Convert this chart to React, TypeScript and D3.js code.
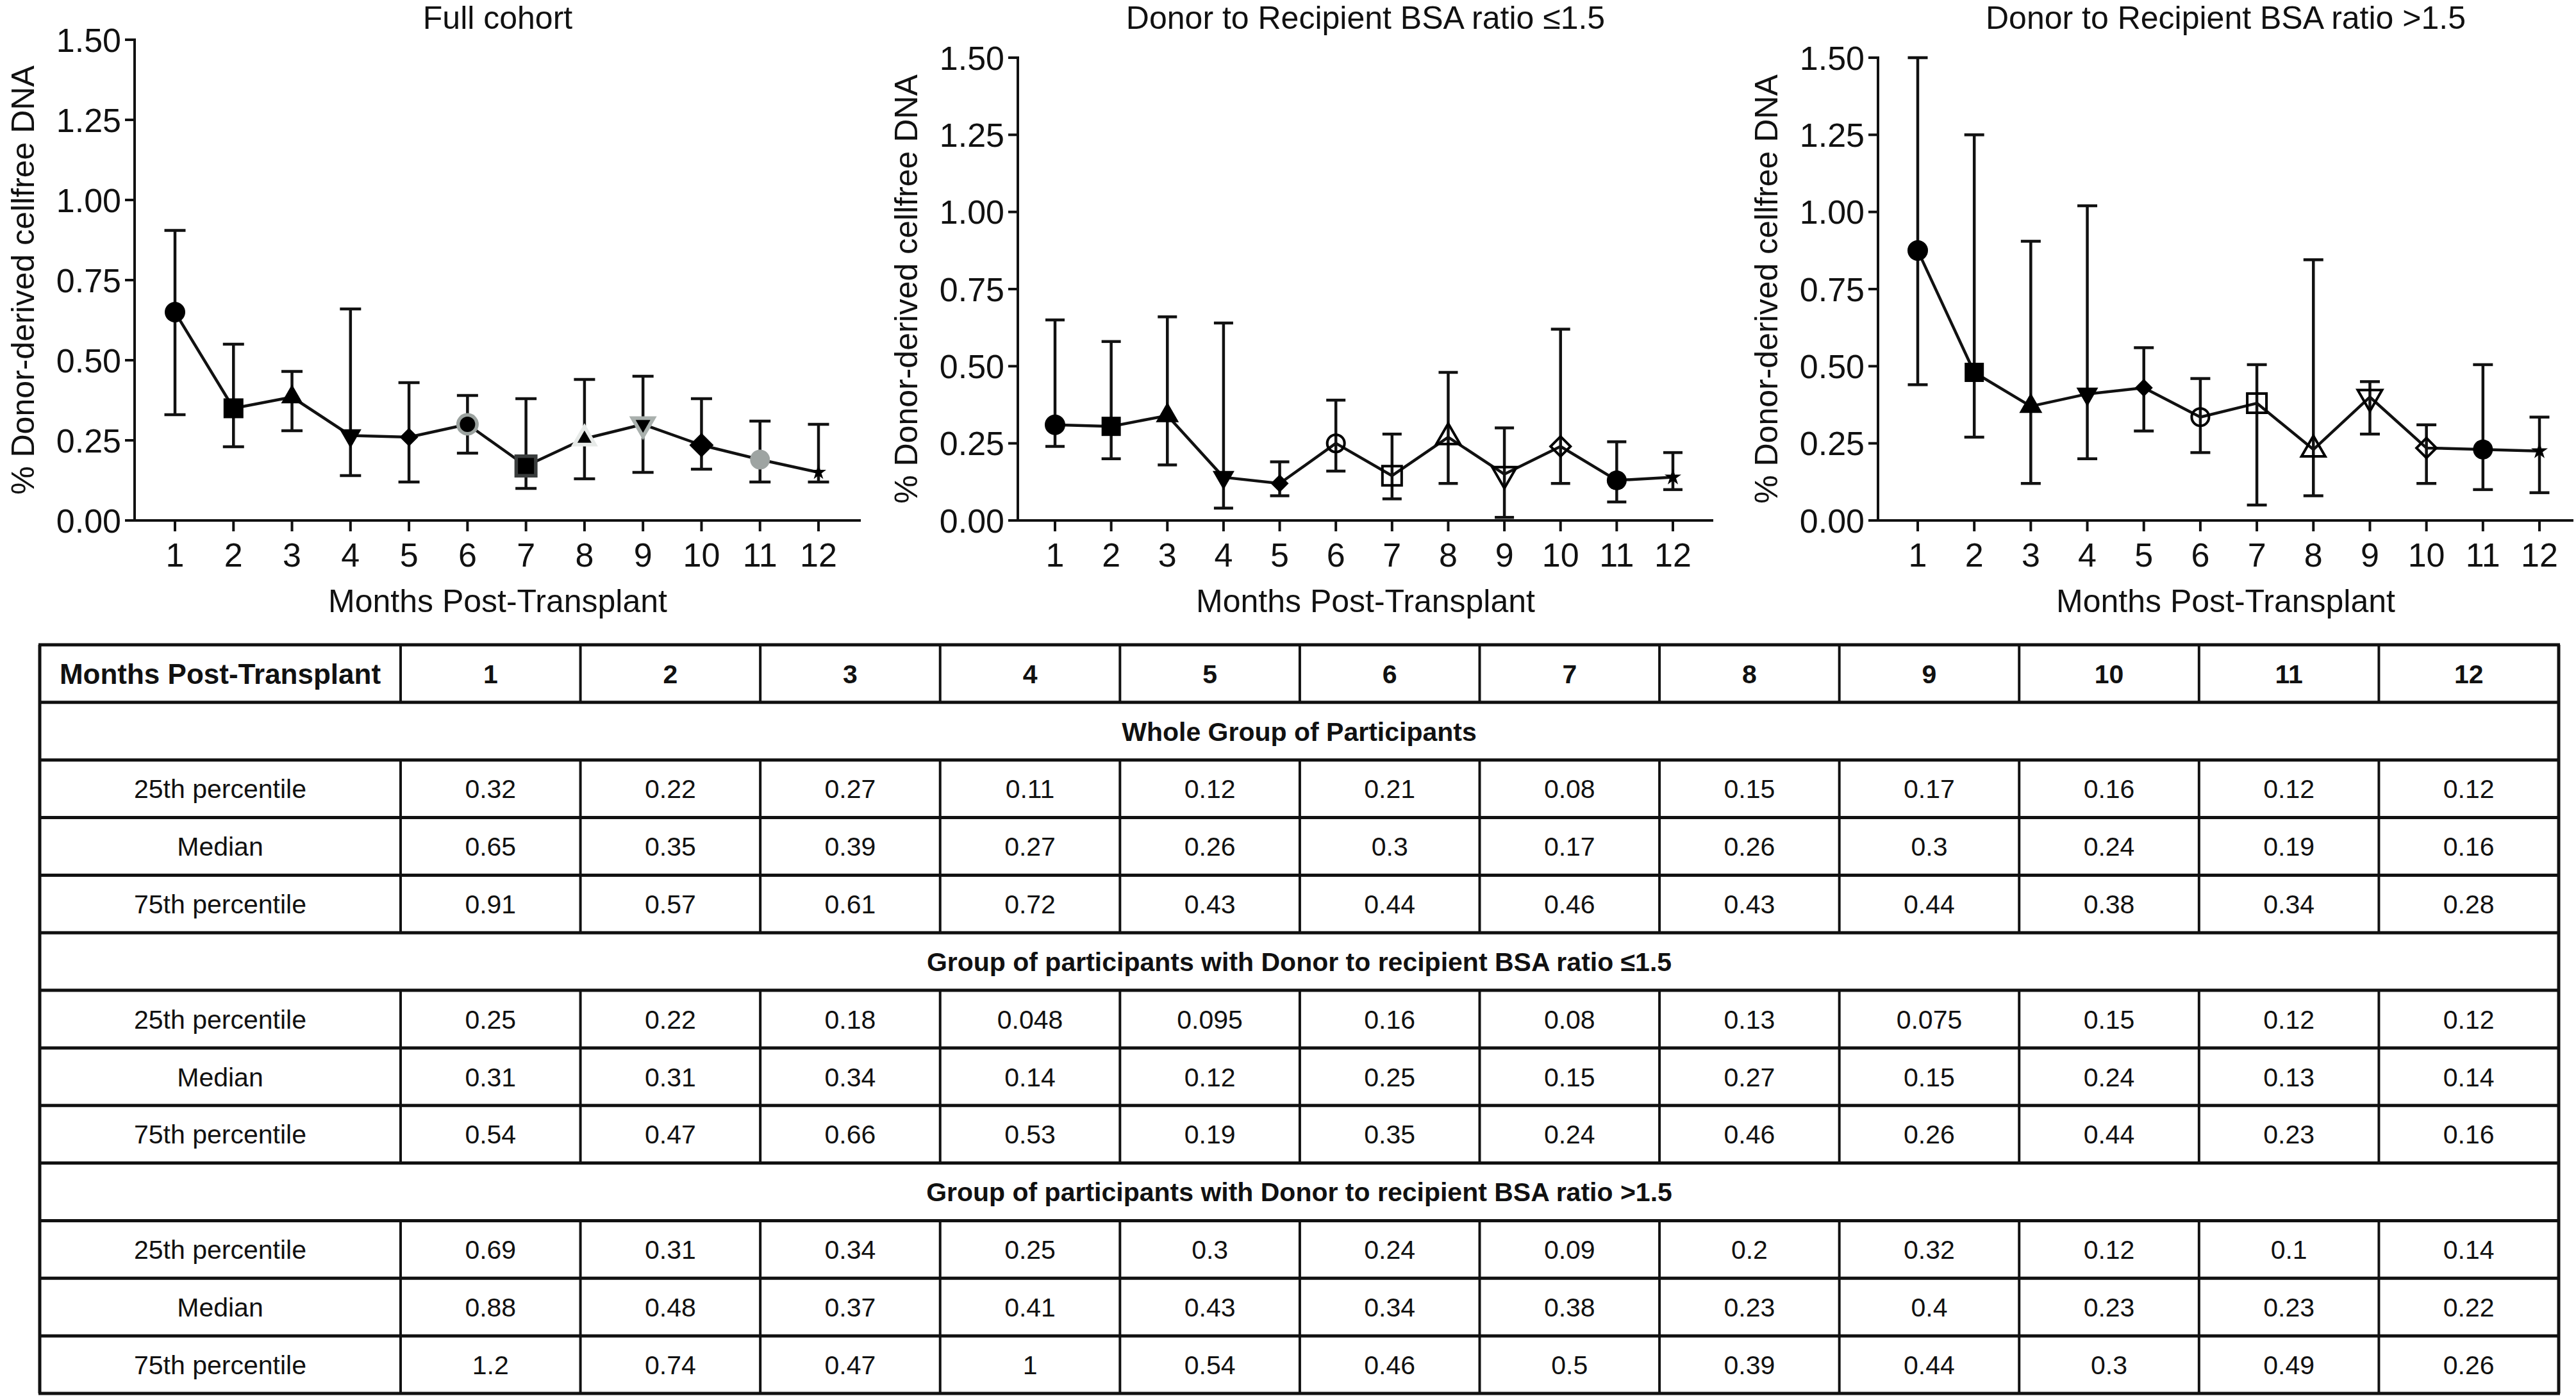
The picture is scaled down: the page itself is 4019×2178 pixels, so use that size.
import React from 'react';
import * as d3 from 'd3';

// ---------- data ----------
const months = [1, 2, 3, 4, 5, 6, 7, 8, 9, 10, 11, 12];
const yTicks = [0, 0.25, 0.5, 0.75, 1.0, 1.25, 1.5];

const panelTitles = ['Full cohort', 'Donor to Recipient BSA ratio \u22641.5', 'Donor to Recipient BSA ratio >1.5'];
const xAxisTitle = 'Months Post-Transplant';
const yAxisTitle = '% Donor-derived cellfree DNA';

// values (median with lower / upper error bar)
const fullLow = [0.33, 0.23, 0.28, 0.14, 0.12, 0.21, 0.10, 0.13, 0.15, 0.16, 0.12, 0.12];
const fullMedian = [0.65, 0.35, 0.385, 0.265, 0.26, 0.30, 0.17, 0.255, 0.30, 0.235, 0.19, 0.15];
const fullHigh = [0.905, 0.55, 0.465, 0.66, 0.43, 0.39, 0.38, 0.44, 0.45, 0.38, 0.31, 0.30];

const lowBsaLow = [0.24, 0.20, 0.18, 0.04, 0.08, 0.16, 0.07, 0.12, 0.01, 0.12, 0.06, 0.10];
const lowBsaMedian = [0.31, 0.305, 0.34, 0.14, 0.12, 0.25, 0.145, 0.27, 0.15, 0.24, 0.13, 0.14];
const lowBsaHigh = [0.65, 0.58, 0.66, 0.64, 0.19, 0.39, 0.28, 0.48, 0.30, 0.62, 0.255, 0.22];

const highBsaLow = [0.44, 0.27, 0.12, 0.20, 0.29, 0.22, 0.05, 0.08, 0.28, 0.12, 0.10, 0.09];
const highBsaMedian = [0.875, 0.48, 0.37, 0.41, 0.43, 0.335, 0.38, 0.23, 0.40, 0.235, 0.23, 0.225];
const highBsaHigh = [1.50, 1.25, 0.905, 1.02, 0.56, 0.46, 0.505, 0.845, 0.45, 0.31, 0.505, 0.335];

// table
const tableHeaderLabel = 'Months Post-Transplant';
const groupLabels = [
  'Whole Group of Participants',
  'Group of participants with Donor to recipient BSA ratio \u22641.5',
  'Group of participants with Donor to recipient BSA ratio >1.5',
];
const statLabels = ['25th percentile', 'Median', '75th percentile'];
const whole25 = ['0.32', '0.22', '0.27', '0.11', '0.12', '0.21', '0.08', '0.15', '0.17', '0.16', '0.12', '0.12'];
const wholeMed = ['0.65', '0.35', '0.39', '0.27', '0.26', '0.3', '0.17', '0.26', '0.3', '0.24', '0.19', '0.16'];
const whole75 = ['0.91', '0.57', '0.61', '0.72', '0.43', '0.44', '0.46', '0.43', '0.44', '0.38', '0.34', '0.28'];
const low25 = ['0.25', '0.22', '0.18', '0.048', '0.095', '0.16', '0.08', '0.13', '0.075', '0.15', '0.12', '0.12'];
const lowMed = ['0.31', '0.31', '0.34', '0.14', '0.12', '0.25', '0.15', '0.27', '0.15', '0.24', '0.13', '0.14'];
const low75 = ['0.54', '0.47', '0.66', '0.53', '0.19', '0.35', '0.24', '0.46', '0.26', '0.44', '0.23', '0.16'];
const high25 = ['0.69', '0.31', '0.34', '0.25', '0.3', '0.24', '0.09', '0.2', '0.32', '0.12', '0.1', '0.14'];
const highMed = ['0.88', '0.48', '0.37', '0.41', '0.43', '0.34', '0.38', '0.23', '0.4', '0.23', '0.23', '0.22'];
const high75 = ['1.2', '0.74', '0.47', '1', '0.54', '0.46', '0.5', '0.39', '0.44', '0.3', '0.49', '0.26'];

// ---------- styles ----------
const FONT = "'Liberation Sans', Arial, Helvetica, sans-serif";

type Mk = { shape: string; w: number; fill: string; stroke?: string; sw?: number };

const fullMarkers: Mk[][] = [
  [{ shape: 'circle', w: 32, fill: '#000' }],
  [{ shape: 'square', w: 31, fill: '#000' }],
  [{ shape: 'triangle', w: 34, fill: '#000' }],
  [{ shape: 'triangleDown', w: 34, fill: '#000' }],
  [{ shape: 'diamond', w: 29, fill: '#000' }],
  [{ shape: 'circle', w: 35, fill: '#9ba29f' }, { shape: 'circle', w: 24, fill: '#000' }],
  [{ shape: 'square', w: 36, fill: '#3b3e3e' }, { shape: 'square', w: 25, fill: '#000' }],
  [{ shape: 'triangle', w: 42, fill: '#e7eae8' }, { shape: 'triangle', w: 22, fill: '#000' }],
  [{ shape: 'triangleDown', w: 43, fill: '#a9b0ad' }, { shape: 'triangleDown', w: 23, fill: '#000' }],
  [{ shape: 'diamond', w: 38, fill: '#000' }],
  [{ shape: 'circle', w: 31, fill: '#9ea4a2' }],
  [{ shape: 'star', w: 24, fill: '#000' }],
];

const open = (shape: string, w: number): Mk[] => [{ shape, w, fill: 'none', stroke: '#000', sw: 4 }];
const subMarkers: Mk[][] = [
  [{ shape: 'circle', w: 32, fill: '#000' }],
  [{ shape: 'square', w: 30, fill: '#000' }],
  [{ shape: 'triangle', w: 36, fill: '#000' }],
  [{ shape: 'triangleDown', w: 34, fill: '#000' }],
  [{ shape: 'diamond', w: 28, fill: '#000' }],
  open('circle', 27),
  open('square', 30),
  open('triangle', 37),
  open('triangleDown', 38),
  open('diamond', 31),
  [{ shape: 'circle', w: 31, fill: '#000' }],
  [{ shape: 'star', w: 26, fill: '#000' }],
];

function markerPath(shape: string, w: number): { d: string; rot: number } {
  const sym = d3.symbol();
  switch (shape) {
    case 'circle':
      return { d: sym.type(d3.symbolCircle).size(Math.PI * (w / 2) ** 2)() as string, rot: 0 };
    case 'square':
      return { d: sym.type(d3.symbolSquare).size(w * w)() as string, rot: 0 };
    case 'triangle':
      return { d: sym.type(d3.symbolTriangle).size((Math.sqrt(3) / 4) * w * w)() as string, rot: 0 };
    case 'triangleDown':
      return { d: sym.type(d3.symbolTriangle).size((Math.sqrt(3) / 4) * w * w)() as string, rot: 180 };
    case 'diamond':
      return { d: sym.type(d3.symbolSquare).size((w * w) / 2)() as string, rot: 45 };
    case 'star': {
      const r = w / 1.9;
      return { d: sym.type(d3.symbolStar).size((r * r) / 0.8908130915292852)() as string, rot: 0 };
    }
  }
  return { d: '', rot: 0 };
}

type PanelSpec = {
  title: string;
  axisX: number;
  x0: number;
  x1: number;
  xEnd: number;
  yTop: number;
  low: number[];
  med: number[];
  high: number[];
  markers: Mk[][];
  capW: number;
};

const Y0 = 812;

function Panel({ p }: { p: PanelSpec }) {
  const x = d3.scaleLinear().domain([1, 12]).range([p.x0, p.x1]);
  const y = d3.scaleLinear().domain([0, 1.5]).range([Y0, p.yTop]);
  const line = d3
    .line<number>()
    .x((_, i) => x(months[i]))
    .y((d) => y(d));
  const sw = 4.5;
  return (
    <g>
      <text x={(p.axisX + p.xEnd) / 2} y={45} textAnchor="middle" fontSize={50} fontFamily={FONT} fill="#111">
        {p.title}
      </text>
      {/* axes */}
      <line x1={p.axisX} x2={p.axisX} y1={y(1.5) - 2} y2={y(0) + 2} stroke="#111" strokeWidth={4} />
      <line x1={p.axisX - 15} x2={p.xEnd} y1={y(0)} y2={y(0)} stroke="#111" strokeWidth={4} />
      {yTicks.map((t) => (
        <g key={'y' + t}>
          <line x1={p.axisX - 15} x2={p.axisX} y1={y(t)} y2={y(t)} stroke="#111" strokeWidth={4} />
          <text
            x={p.axisX - 21}
            y={y(t)}
            dy="0.36em"
            textAnchor="end"
            fontSize={52}
            fontFamily={FONT}
            fill="#111"
          >
            {t.toFixed(2)}
          </text>
        </g>
      ))}
      {months.map((m) => (
        <g key={'x' + m}>
          <line x1={x(m)} x2={x(m)} y1={y(0)} y2={y(0) + 17} stroke="#111" strokeWidth={4} />
          <text x={x(m)} y={884} textAnchor="middle" fontSize={52} fontFamily={FONT} fill="#111">
            {String(m)}
          </text>
        </g>
      ))}
      <text x={(p.axisX + p.xEnd) / 2} y={955} textAnchor="middle" fontSize={50} fontFamily={FONT} fill="#111">
        {xAxisTitle}
      </text>
      <text
        transform={`translate(${p.axisX - 157},${(y(0) + y(1.5)) / 2}) rotate(-90)`}
        textAnchor="middle"
        fontSize={50}
        fontFamily={FONT}
        fill="#111"
      >
        {yAxisTitle}
      </text>
      {/* error bars */}
      {months.map((m, i) => (
        <g key={'e' + m} stroke="#111" strokeWidth={sw}>
          <line x1={x(m)} x2={x(m)} y1={y(p.low[i])} y2={y(p.high[i])} />
          <line x1={x(m) - p.capW / 2} x2={x(m) + p.capW / 2} y1={y(p.low[i])} y2={y(p.low[i])} />
          <line x1={x(m) - p.capW / 2} x2={x(m) + p.capW / 2} y1={y(p.high[i])} y2={y(p.high[i])} />
        </g>
      ))}
      <path d={line(p.med) as string} fill="none" stroke="#111" strokeWidth={sw} strokeLinejoin="round" />
      {months.map((m, i) => (
        <g key={'m' + m} transform={`translate(${x(m)},${y(p.med[i])})`}>
          {p.markers[i].map((mk, j) => {
            const { d, rot } = markerPath(mk.shape, mk.w);
            return (
              <path
                key={j}
                d={d}
                transform={rot ? `rotate(${rot})` : undefined}
                fill={mk.fill}
                stroke={mk.stroke || 'none'}
                strokeWidth={mk.sw || 0}
              />
            );
          })}
        </g>
      ))}
    </g>
  );
}

const panels: PanelSpec[] = [
  {
    title: panelTitles[0], axisX: 210, x0: 273, x1: 1277, xEnd: 1343, yTop: 62,
    low: fullLow, med: fullMedian, high: fullHigh, markers: fullMarkers, capW: 33,
  },
  {
    title: panelTitles[1], axisX: 1588, x0: 1646, x1: 2610, xEnd: 2673, yTop: 90,
    low: lowBsaLow, med: lowBsaMedian, high: lowBsaHigh, markers: subMarkers, capW: 30,
  },
  {
    title: panelTitles[2], axisX: 2930, x0: 2992, x1: 3962, xEnd: 4015, yTop: 90,
    low: highBsaLow, med: highBsaMedian, high: highBsaHigh, markers: subMarkers, capW: 31,
  },
];

// ---------- table ----------
type Row = { kind: 'header' | 'group' | 'data'; label: string; values?: string[] };
const tableRows: Row[] = [
  { kind: 'header', label: tableHeaderLabel, values: months.map(String) },
  { kind: 'group', label: groupLabels[0] },
  { kind: 'data', label: statLabels[0], values: whole25 },
  { kind: 'data', label: statLabels[1], values: wholeMed },
  { kind: 'data', label: statLabels[2], values: whole75 },
  { kind: 'group', label: groupLabels[1] },
  { kind: 'data', label: statLabels[0], values: low25 },
  { kind: 'data', label: statLabels[1], values: lowMed },
  { kind: 'data', label: statLabels[2], values: low75 },
  { kind: 'group', label: groupLabels[2] },
  { kind: 'data', label: statLabels[0], values: high25 },
  { kind: 'data', label: statLabels[1], values: highMed },
  { kind: 'data', label: statLabels[2], values: high75 },
];

function Table() {
  const left = 62;
  const right = 3992;
  const firstColRight = 625;
  const top = 1006;
  const bottom = 2174;
  const rowY = d3.scaleLinear().domain([0, tableRows.length]).range([top, bottom]);
  const colX = d3.scaleLinear().domain([0, 12]).range([firstColRight, right]);
  return (
    <g fontFamily={FONT} fill="#111">
      {tableRows.map((r, i) => {
        const y0 = rowY(i);
        const y1 = rowY(i + 1);
        const cy = (y0 + y1) / 2;
        const bold = r.kind !== 'data';
        return (
          <g key={i}>
            {r.kind !== 'group' &&
              d3.range(0, 12).map((k) => (
                <line key={k} x1={colX(k)} x2={colX(k)} y1={y0} y2={y1} stroke="#111" strokeWidth={4} />
              ))}
            {r.kind === 'group' ? (
              <text
                x={(left + right) / 2}
                y={cy}
                dy="0.36em"
                textAnchor="middle"
                fontSize={41}
                fontWeight="bold"
              >
                {r.label}
              </text>
            ) : (
              <>
                <text
                  x={(left + firstColRight) / 2}
                  y={cy}
                  dy="0.36em"
                  textAnchor="middle"
                  fontSize={r.kind === 'header' ? 44 : 41}
                  fontWeight={bold ? 'bold' : 'normal'}
                >
                  {r.label}
                </text>
                {(r.values || []).map((v, k) => (
                  <text
                    key={k}
                    x={(colX(k) + colX(k + 1)) / 2}
                    y={cy}
                    dy="0.36em"
                    textAnchor="middle"
                    fontSize={41}
                    fontWeight={bold ? 'bold' : 'normal'}
                  >
                    {v}
                  </text>
                ))}
              </>
            )}
          </g>
        );
      })}
      {d3.range(0, tableRows.length + 1).map((i) => (
        <line key={'h' + i} x1={left - 2} x2={right + 2} y1={rowY(i)} y2={rowY(i)} stroke="#111" strokeWidth={5} />
      ))}
      <line x1={left} x2={left} y1={top} y2={bottom} stroke="#111" strokeWidth={5} />
      <line x1={right} x2={right} y1={top} y2={bottom} stroke="#111" strokeWidth={5} />
    </g>
  );
}

export default function App() {
  return (
    <svg
      width={4019}
      height={2178}
      viewBox="0 0 4019 2178"
      style={{ position: 'absolute', left: 0, top: 0, background: '#fff' }}
    >
      <rect x={0} y={0} width={4019} height={2178} fill="#fff" />
      {panels.map((p, i) => (
        <Panel key={i} p={p} />
      ))}
      <Table />
    </svg>
  );
}
